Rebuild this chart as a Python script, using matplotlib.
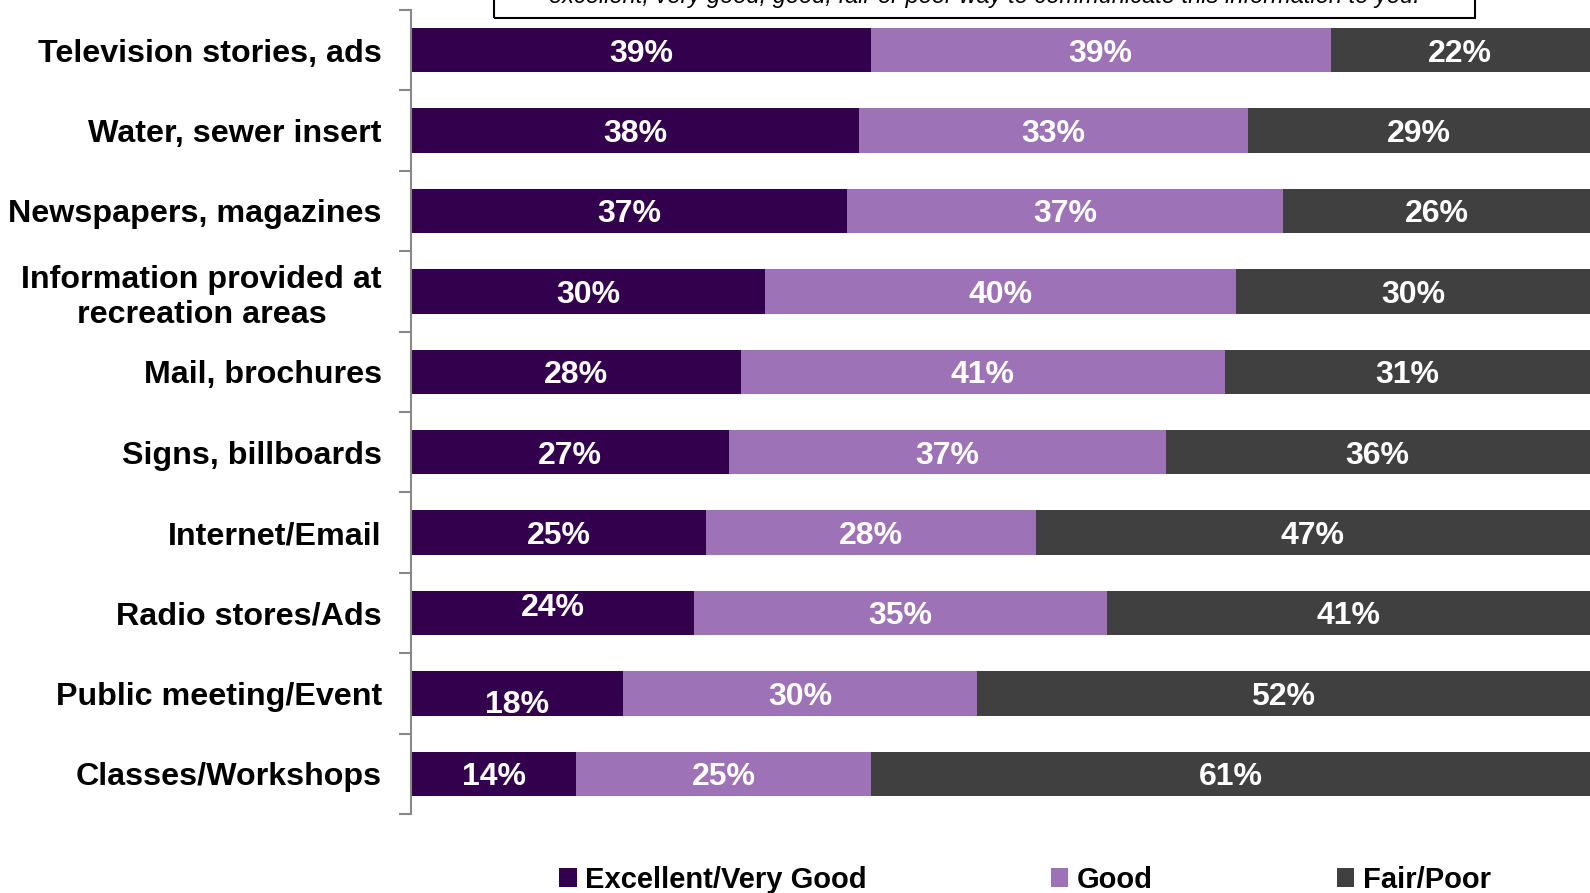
import matplotlib.pyplot as plt
import numpy as np

plt.rcParams['font.family'] = ['Liberation Sans', 'DejaVu Sans']

# Survey channels and rating shares (percent)
channels = ['Television stories, ads', 'Water, sewer insert', 'Newspapers, magazines',
            'Information provided at\nrecreation areas', 'Mail, brochures', 'Signs, billboards',
            'Internet/Email', 'Radio stores/Ads', 'Public meeting/Event', 'Classes/Workshops']
excellent = [39, 38, 37, 30, 28, 27, 25, 24, 18, 14]
good = [39, 33, 37, 40, 41, 37, 28, 35, 30, 25]
fair_poor = [22, 29, 26, 30, 31, 36, 47, 41, 52, 61]
series_names = ['Excellent/Very Good', 'Good', 'Fair/Poor']
colors = ['#33004d', '#9e72b6', '#404040']

# small vertical nudges for a couple of labels in the first series
label_shift = {7: -0.1, 8: 0.1}

fig = plt.figure(figsize=(15.9, 8.93), dpi=100)
ax = fig.add_axes([411 / 1590, 1 - 814 / 893, 1 - 411 / 1590, (814 - 10) / 893])

y = np.arange(len(channels))
left = np.zeros(len(channels))
for k, vals in enumerate([excellent, good, fair_poor]):
    vals = np.array(vals, dtype=float)
    ax.barh(y, vals, left=left, height=0.55, color=colors[k], label=series_names[k])
    for i, v in enumerate(vals):
        dy = label_shift.get(i, 0) if k == 0 else 0
        ax.text(left[i] + v / 2, y[i] + dy, '%d%%' % v, ha='center', va='center_baseline',
                color='white', fontsize=23, fontweight='bold')
    left += vals

ax.set_xlim(0, 100)
ax.set_ylim(len(channels) - 0.5, -0.5)
ax.set_xticks([])
ax.set_yticks(np.arange(-0.5, len(channels), 1.0))
ax.set_yticklabels([])
ax.set_yticks(y, minor=True)
ax.set_yticklabels(channels, minor=True, fontsize=23.2, fontweight='bold', ha='right',
                   multialignment='center', linespacing=1.22)
ax.tick_params(axis='y', which='minor', length=0, pad=21)
ax.tick_params(axis='y', which='major', length=9, width=1.5, color='#888888', direction='out')
for s in ['top', 'right', 'bottom']:
    ax.spines[s].set_visible(False)
ax.spines['left'].set_color('#888888')
ax.spines['left'].set_linewidth(1.5)

# Question box, clipped at the top of the figure
fig.patches.append(plt.Rectangle((494 / 1590, 1 - 18 / 893), (1475 - 494) / 1590, 40 / 893,
                                 transform=fig.transFigure, fill=False, edgecolor='black',
                                 linewidth=1.5, clip_on=False))
fig.text(984 / 1590, 1 - 3 / 893,
         'excellent, very good, good, fair or poor way to communicate this information to you.',
         ha='center', va='baseline', fontsize=17, style='italic')

handles, labels = ax.get_legend_handles_labels()
fig.legend(handles, labels, loc='center', bbox_to_anchor=(1025 / 1590, 1 - 880 / 893), ncol=3,
           frameon=False, prop={'weight': 'bold', 'size': 21},
           handlelength=0.6, handleheight=0.6, handletextpad=0.3, columnspacing=6.3)

fig.savefig('out.png', dpi=100)
